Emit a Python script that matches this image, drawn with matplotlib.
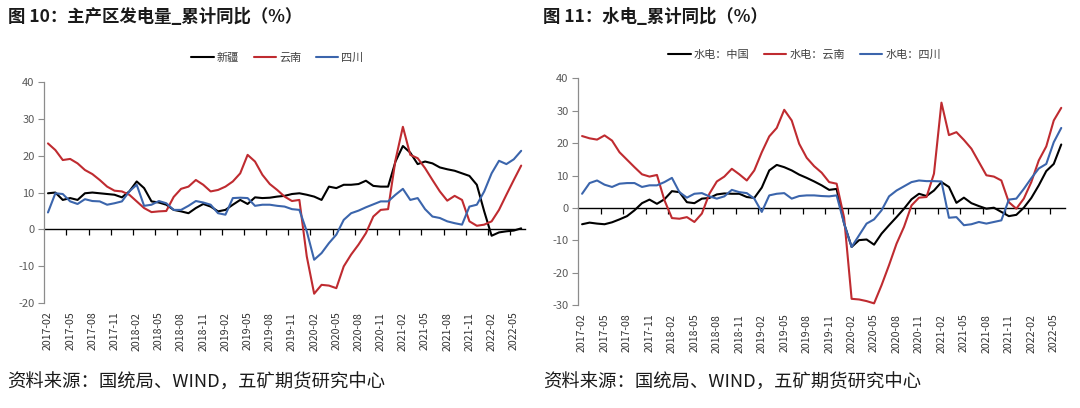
import matplotlib
matplotlib.use('Agg')
import matplotlib.pyplot as plt
import pandas as pd

# ---- categories ----
months = [p.strftime('%Y-%m') for p in pd.period_range('2017-02', '2022-06', freq='M')]
tick_labels = months[::3]

# ---- 图10 主产区发电量 累计同比 (%) ----
xinjiang = [9.8, 10.0, 8.0, 8.5, 8.0, 9.8, 10.0, 9.8, 9.6, 9.4, 8.7, 10.3, 13.0, 11.2, 7.6, 7.3,
            6.7, 5.3, 4.9, 4.4, 5.8, 6.9, 6.2, 4.9, 5.3, 6.7, 8.0, 6.9, 8.7, 8.5, 8.6, 8.9,
            9.1, 9.6, 9.8, 9.4, 8.9, 8.0, 11.6, 11.2, 12.1, 12.1, 12.3, 13.2, 11.8, 11.6, 11.6, 18.4,
            22.6, 20.8, 17.7, 18.4, 17.9, 16.8, 16.3, 15.9, 15.2, 14.5, 12.1, 4.9, -1.7, -0.8, -0.5, -0.3, 0.3]
yunnan = [23.3, 21.5, 18.8, 19.1, 17.9, 16.1, 15.0, 13.4, 11.6, 10.5, 10.3, 9.4, 7.6, 5.8, 4.7, 4.9,
          5.0, 8.8, 11.0, 11.6, 13.4, 12.1, 10.3, 10.7, 11.6, 13.0, 15.2, 20.2, 18.4, 14.8, 12.3, 10.7,
          8.9, 7.7, 8.0, -7.3, -17.4, -15.0, -15.2, -15.9, -10.0, -6.8, -4.1, -1.0, 3.5, 5.3, 5.5, 18.8,
          27.8, 20.2, 19.3, 16.6, 13.4, 10.3, 7.8, 9.1, 8.0, 2.2, 1.0, 1.3, 2.2, 5.3, 9.4, 13.4, 17.3]
sichuan = [4.6, 9.8, 9.6, 7.6, 6.9, 8.2, 7.7, 7.6, 6.7, 7.1, 7.6, 10.3, 12.1, 6.4, 6.7, 7.7,
           7.1, 5.3, 5.3, 6.4, 7.7, 7.3, 6.7, 4.4, 4.0, 8.5, 8.6, 8.5, 6.4, 6.7, 6.7, 6.4,
           6.2, 5.5, 5.3, -0.5, -8.2, -6.4, -3.7, -1.4, 2.6, 4.4, 5.1, 6.0, 6.8, 7.6, 7.6, 9.4,
           11.0, 8.0, 8.5, 5.5, 3.5, 3.1, 2.2, 1.7, 1.3, 6.2, 6.7, 10.3, 15.2, 18.6, 17.7, 19.0, 21.3]

# ---- 图11 水电 累计同比 (%) ----
hydro_china = [-5.0, -4.5, -4.8, -5.0, -4.4, -3.5, -2.5, -0.7, 1.5, 2.6, 1.3, 2.7, 5.2, 4.9, 1.8, 1.5,
               2.9, 3.1, 4.2, 4.5, 4.4, 4.4, 3.4, 3.1, 6.3, 11.6, 13.3, 12.6, 11.6, 10.3, 9.3, 8.2,
               7.0, 5.6, 5.9, -4.8, -12.0, -9.9, -9.7, -11.3, -7.9, -5.3, -2.8, -0.2, 2.7, 4.4, 3.7, 5.4,
               8.0, 6.5, 1.6, 3.2, 1.5, 0.6, -0.2, 0.1, -1.2, -2.5, -2.1, 0.1, 3.1, 7.0, 11.4, 13.6, 19.6]
hydro_yunnan = [22.2, 21.5, 21.1, 22.4, 20.8, 17.2, 14.9, 12.6, 10.4, 9.7, 10.2, 2.4, -3.1, -3.3, -2.8, -4.3,
                -1.7, 4.4, 8.2, 9.7, 12.1, 10.4, 8.5, 11.6, 17.2, 22.1, 24.7, 30.3, 27.0, 19.8, 15.5, 12.9,
                10.9, 8.0, 7.5, -3.0, -28.0, -28.2, -28.7, -29.4, -23.8, -17.6, -11.0, -5.8, 0.8, 3.2, 3.4, 10.6,
                32.5, 22.5, 23.4, 21.0, 18.3, 14.2, 10.1, 9.7, 8.5, 1.8, -0.2, 2.9, 8.0, 14.7, 19.0, 27.0, 30.9]
hydro_sichuan = [4.4, 7.7, 8.5, 7.2, 6.5, 7.5, 7.7, 7.7, 6.5, 7.0, 7.0, 8.0, 9.3, 4.9, 3.2, 4.4,
                 4.6, 3.6, 2.9, 3.6, 5.6, 4.9, 4.6, 2.9, -1.2, 3.9, 4.4, 4.6, 2.9, 3.7, 3.9, 3.9,
                 3.7, 3.6, 3.9, -4.8, -12.0, -8.4, -4.8, -3.5, -0.7, 3.6, 5.4, 6.7, 8.0, 8.5, 8.3, 8.3,
                 8.2, -3.0, -2.8, -5.3, -5.0, -4.3, -4.8, -4.3, -3.8, 2.6, 2.9, 5.9, 9.2, 12.2, 13.6, 20.3, 24.7]

left_labels = ['新疆', '云南', '四川']
right_labels = ['水电：中国', '水电：云南', '水电：四川']
colors = ['#000000', '#BF2B30', '#3B65AC']

plt.rcParams['font.family'] = ['Noto Sans CJK SC', 'DejaVu Sans']

fig = plt.figure(figsize=(10.8, 4.08), dpi=100)


def panel(rect, series, labels, ylim, yticks, legend_xy):
    ax = fig.add_axes(rect)
    x = list(range(len(months)))
    for s, lab, c in zip(series, labels, colors):
        ax.plot(x, s, color=c, lw=1.5, label=lab, solid_capstyle='round', solid_joinstyle='round')
    ax.set_xlim(-0.5, len(months) - 0.5)
    ax.set_ylim(*ylim)
    ax.set_yticks(yticks)
    ax.set_yticklabels([str(v) for v in yticks])
    for sp in ['top', 'right', 'bottom']:
        ax.spines[sp].set_visible(False)
    ax.spines['left'].set_color('#8c8c8c')
    ax.spines['left'].set_linewidth(0.9)
    ax.tick_params(axis='y', direction='out', length=4, width=0.8, color='#8c8c8c',
                   labelsize=8, labelcolor='#595959', pad=3)
    ax.set_xticks(list(range(0, len(months), 3)))
    ax.set_xticklabels(tick_labels, rotation=90, fontsize=7.6, color='#333333')
    ax.tick_params(axis='x', length=0, pad=6)
    # zero line with tick marks between categories
    loc = (0 - ylim[0]) / (ylim[1] - ylim[0])
    sec = ax.secondary_xaxis(loc)
    sec.spines['bottom'].set_color('black')
    sec.spines['bottom'].set_linewidth(1.0)
    sec.set_xticks([i + 2.5 for i in range(0, len(months) - 2, 3)])
    sec.tick_params(axis='x', direction='out', length=4, width=0.9, color='black',
                    labelbottom=False, labeltop=False)
    ax.legend(loc='center', bbox_to_anchor=legend_xy, bbox_transform=fig.transFigure,
              ncol=3, frameon=False, fontsize=8, handlelength=2.0, columnspacing=1.3,
              handletextpad=0.3, labelcolor='#404040')
    return ax


panel([0.041, 0.2566, 0.445, 0.543], [xinjiang, yunnan, sichuan], left_labels,
      (-20, 40), list(range(-20, 41, 10)), (0.257, 0.858))
panel([0.5355, 0.2517, 0.4506, 0.5563], [hydro_china, hydro_yunnan, hydro_sichuan], right_labels,
      (-30, 40), list(range(-30, 41, 10)), (0.745, 0.865))

fig.text(0.007, 0.958, '图 10：主产区发电量_累计同比（%）', fontsize=12.5, fontweight='bold',
         va='center', ha='left', color='#1a1a1a')
fig.text(0.503, 0.958, '图 11：水电_累计同比（%）', fontsize=12.5, fontweight='bold',
         va='center', ha='left', color='#1a1a1a')
fig.text(0.007, 0.061, '资料来源：国统局、WIND，五矿期货研究中心', fontsize=13.2,
         va='center', ha='left', color='#1a1a1a')
fig.text(0.503, 0.061, '资料来源：国统局、WIND，五矿期货研究中心', fontsize=13.2,
         va='center', ha='left', color='#1a1a1a')

fig.savefig('out.png', dpi=100)
